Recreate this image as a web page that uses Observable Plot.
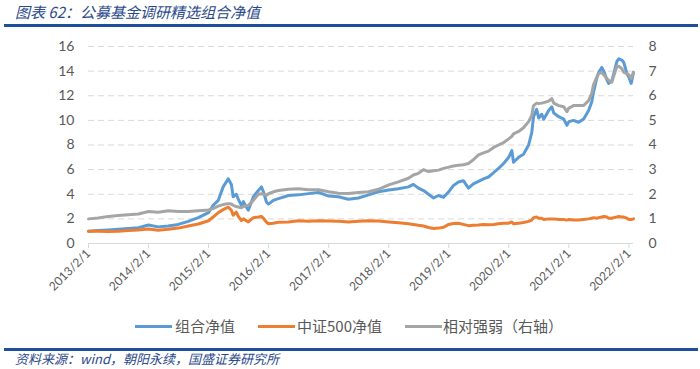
<!DOCTYPE html>
<html><head><meta charset="utf-8">
<script src="https://cdn.jsdelivr.net/npm/d3@7"></script>
<script src="https://cdn.jsdelivr.net/npm/@observablehq/plot@0.6"></script>
<style>
body{margin:0;width:700px;height:369px;background:#fff;position:relative;overflow:hidden;font-family:"Noto Sans CJK SC",sans-serif;}
#title{position:absolute;left:15px;top:1px;font-size:15px;line-height:22px;font-style:italic;color:#2b4a8b;white-space:nowrap;}
.rule{position:absolute;left:4px;width:694px;height:3px;background:#1f4e9a;}
#chart{position:absolute;left:0;top:30px;}
.sw{position:absolute;height:3px;width:37px;top:325px;}
.lt{position:absolute;top:314px;font-size:15px;line-height:24px;color:#595959;white-space:nowrap;}
#source{position:absolute;left:15px;top:350px;font-size:13px;line-height:18px;font-style:italic;color:#2b4a8b;white-space:nowrap;}
</style></head>
<body>
<div id="title">图表 62：公募基金调研精选组合净值</div>
<div class="rule" style="top:24px"></div>
<div id="chart"></div>
<div class="sw" style="left:135px;background:#5B9BD5"></div><div class="lt" style="left:175px">组合净值</div>
<div class="sw" style="left:258px;background:#ED7D31"></div><div class="lt" style="left:297px">中证500净值</div>
<div class="sw" style="left:405px;background:#A5A5A5"></div><div class="lt" style="left:443px">相对强弱（右轴）</div>
<div class="rule" style="top:348px"></div>
<div id="source">资料来源：wind，朝阳永续，国盛证券研究所</div>
<script>
const dates = ["2013-02-01","2013-04-01","2013-06-01","2013-08-01","2013-10-01","2013-12-01","2014-02-01","2014-04-01","2014-06-01","2014-08-01","2014-10-01","2014-12-01","2015-02-01","2015-03-01","2015-04-01","2015-05-01","2015-06-01","2015-06-20","2015-07-01","2015-07-20","2015-08-01","2015-08-20","2015-09-01","2015-10-01","2015-11-01","2015-12-01","2015-12-20","2016-01-01","2016-01-20","2016-02-01","2016-03-01","2016-04-01","2016-06-01","2016-08-01","2016-10-01","2016-12-01","2017-02-01","2017-04-01","2017-06-01","2017-08-01","2017-10-01","2017-12-01","2018-02-01","2018-04-01","2018-06-01","2018-07-01","2018-08-01","2018-09-01","2018-10-01","2018-11-01","2018-12-01","2019-01-01","2019-02-01","2019-03-01","2019-04-01","2019-05-01","2019-06-01","2019-07-01","2019-08-01","2019-09-01","2019-10-01","2019-11-01","2019-12-01","2020-01-01","2020-02-01","2020-02-20","2020-03-01","2020-04-01","2020-05-01","2020-06-01","2020-06-20","2020-07-01","2020-07-20","2020-08-01","2020-08-20","2020-09-01","2020-10-01","2020-10-20","2020-11-01","2020-12-01","2021-01-01","2021-01-20","2021-02-01","2021-03-01","2021-04-01","2021-05-01","2021-06-01","2021-06-20","2021-07-01","2021-07-20","2021-08-01","2021-08-20","2021-09-01","2021-09-20","2021-10-01","2021-10-20","2021-11-01","2021-11-20","2021-12-01","2021-12-20","2022-01-01","2022-01-20","2022-02-01","2022-02-15","2022-03-01"];
const portfolio = [1.0,1.05,1.1,1.16,1.22,1.28,1.5,1.35,1.42,1.55,1.8,2.1,2.5,3.1,3.5,4.6,5.25,4.8,3.8,4.0,3.6,3.1,3.4,2.7,3.8,4.3,4.6,4.2,3.35,3.2,3.5,3.65,3.9,3.95,4.05,4.15,3.85,3.8,3.6,3.7,3.95,4.2,4.35,4.45,4.6,4.8,4.5,4.3,4.0,3.7,3.9,3.75,4.2,4.7,5.0,5.1,4.5,4.85,5.05,5.25,5.4,5.75,6.1,6.5,7.0,7.55,6.6,7.0,7.25,8.0,9.0,10.3,10.9,10.2,10.5,10.1,10.8,11.1,10.6,10.3,10.1,9.6,9.9,10.0,9.85,10.1,10.8,11.5,12.3,13.4,13.9,14.3,14.0,13.3,13.0,13.2,13.8,14.8,15.0,14.9,14.7,13.8,13.5,13.0,13.9];
const csi500 = [1.0,1.0,0.98,1.0,1.06,1.1,1.18,1.08,1.15,1.25,1.42,1.58,1.85,2.15,2.5,2.75,2.95,2.7,2.3,2.55,2.2,1.87,2.0,1.75,2.1,2.15,2.2,2.05,1.72,1.6,1.65,1.72,1.75,1.85,1.8,1.85,1.82,1.8,1.75,1.8,1.85,1.82,1.75,1.68,1.6,1.55,1.48,1.42,1.3,1.22,1.25,1.32,1.55,1.62,1.65,1.55,1.45,1.48,1.5,1.55,1.52,1.55,1.6,1.65,1.65,1.75,1.6,1.65,1.7,1.8,1.9,2.1,2.15,2.05,2.05,1.95,2.0,2.0,2.0,1.95,1.95,1.9,1.95,1.9,1.9,1.95,2.0,2.05,2.1,2.05,2.1,2.15,2.2,2.15,2.05,2.05,2.1,2.15,2.2,2.15,2.15,2.05,1.95,1.95,2.0];
const relative = [1.0,1.04,1.1,1.14,1.17,1.2,1.3,1.27,1.33,1.3,1.3,1.33,1.36,1.42,1.52,1.58,1.62,1.6,1.55,1.5,1.48,1.45,1.5,1.55,1.75,2.0,2.02,2.0,1.96,2.02,2.1,2.15,2.2,2.22,2.18,2.18,2.1,2.04,2.03,2.07,2.1,2.2,2.38,2.5,2.65,2.78,2.85,3.0,2.92,2.95,2.98,3.05,3.1,3.15,3.18,3.2,3.25,3.4,3.6,3.68,3.75,3.9,4.0,4.1,4.25,4.35,4.45,4.55,4.7,4.95,5.2,5.6,5.7,5.68,5.7,5.72,5.78,5.88,5.7,5.6,5.55,5.35,5.5,5.6,5.6,5.6,5.8,6.1,6.45,6.75,6.9,6.95,6.85,6.7,6.63,6.56,6.8,7.2,7.2,7.1,6.95,6.9,6.85,6.7,6.95];
const xTicks = ["2013-02-01","2014-02-01","2015-02-01","2016-02-01","2017-02-01","2018-02-01","2019-02-01","2020-02-01","2021-02-01","2022-02-01"];
const leftTicks = [0,2,4,6,8,10,12,14,16];
const rightTicks = [0,1,2,3,4,5,6,7,8];

const parse = d3.utcParse("%Y-%m-%d");
const rows = dates.map((d,i)=>({date: parse(d), b: portfolio[i], o: csi500[i], g: relative[i]}));
const fmt = d3.utcFormat("%Y/%-m/%-d");
const txt = "#595959";

const chart = Plot.plot({
  width: 700, height: 285,
  marginTop: 16, marginBottom: 72, marginLeft: 88, marginRight: 67,
  style: {fontFamily: "Lato, 'Liberation Sans', sans-serif", background: "transparent"},
  x: {type: "utc", domain: [parse("2013-02-01"), parse("2022-03-01")]},
  y: {domain: [0, 16]},
  marks: [
    Plot.gridY(leftTicks.filter(v => v > 0), {stroke: "#d9d9d9", strokeOpacity: 1, strokeDasharray: "6,4"}),
    Plot.ruleY([0], {stroke: "#d9d9d9", strokeWidth: 1}),
    Plot.axisX(xTicks.map(parse), {tickRotate: -45, tickFormat: fmt, tickSize: 5, stroke: "#d9d9d9", fill: txt, fontSize: 12, tickPadding: 3, label: null}),
    Plot.axisY(leftTicks, {anchor: "left", tickSize: 0, tickPadding: 14, fontSize: 14, fill: txt, label: null}),
    Plot.axisY(rightTicks.map(v => v * 2), {anchor: "right", tickSize: 0, tickPadding: 15, fontSize: 14, fill: txt, tickFormat: d => d / 2, label: null}),
    Plot.line(rows, {x: "date", y: "b", stroke: "#5B9BD5", strokeWidth: 3}),
    Plot.line(rows, {x: "date", y: "o", stroke: "#ED7D31", strokeWidth: 3}),
    Plot.line(rows, {x: "date", y: d => d.g * 2, stroke: "#A5A5A5", strokeWidth: 3})
  ]
});
document.getElementById("chart").appendChild(chart);
</script>
</body></html>
